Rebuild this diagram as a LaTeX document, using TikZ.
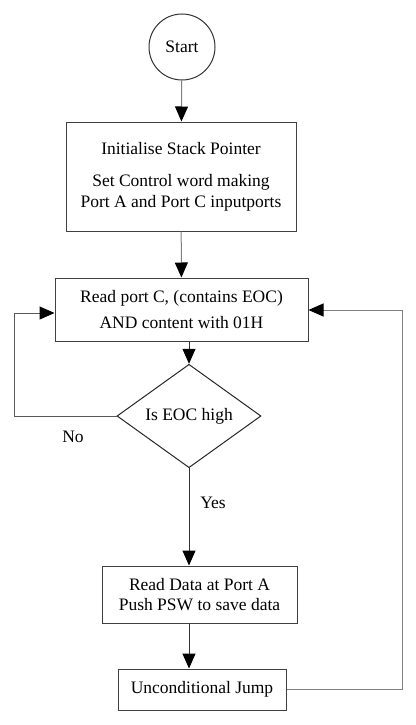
\documentclass[tikz,border=0pt]{standalone}
\usepackage{fontspec}
\setmainfont{Liberation Serif}
\usetikzlibrary{shapes.geometric,arrows.meta}

\begin{document}
\begin{tikzpicture}[x=1pt,y=-1pt,
    font=\fontsize{17.5}{20.5}\selectfont,
    flowbox/.style={draw=black!75, line width=1pt, rectangle, align=center, inner sep=0pt},
    decision/.style={draw=black!85, line width=1pt, diamond, inner sep=0pt},
    flowline/.style={line width=1pt, -{Triangle[width=13pt,length=15pt,color=black]}}
]
    \useasboundingbox (0,0) rectangle (415,725);

    % nodes
    \node[draw=black!80, line width=1pt, circle, minimum size=66pt] (start) at (182,47) {Start};
    \node[flowbox, minimum width=230pt, minimum height=109pt] (init) at (181,176.5)
        {Initialise Stack Pointer\\[12pt]Set Control word making\\Port A and Port C inputports};
    \node[flowbox, minimum width=253pt, minimum height=63pt] (read) at (181.5,309.5)
        {Read port C, (contains EOC)\\[6pt]AND content with 01H};
    \node[decision, minimum width=144pt, minimum height=68pt] (check) at (189,416) {Is EOC high};
    \node[flowbox, minimum width=195pt, minimum height=57pt] (data) at (199.5,594.5)
        {Read Data at Port A\\Push PSW to save data};
    \node[flowbox, minimum width=168pt, minimum height=41pt] (jump) at (202,689.5) {Unconditional Jump};

    % bends of the loops
    \coordinate (nobend) at (14,313);
    \coordinate (jumpbend) at (402,310);

    % arrows
    \draw[flowline, draw=gray] (start) -- (init);
    \draw[flowline, draw=gray] (init) -- (read);
    \draw[flowline, draw=black!80] (check.north |- read.south) -- (check.north);
    \draw[flowline, draw=black!80] (check.south) -- (check.south |- data.north);
    \draw[flowline, draw=black!80] (check.south |- data.south) -- (check.south |- jump.north);
    \draw[flowline, draw=black!65] (check.west) -| (nobend) -- (nobend -| read.west);
    \draw[flowline, draw=gray] (jump.east) -| (jumpbend) -- (jumpbend -| read.east);

    % labels
    \node (nolabel) at (73,437) {No};
    \node (yeslabel) at (213,503) {Yes};

\end{tikzpicture}
\end{document}
